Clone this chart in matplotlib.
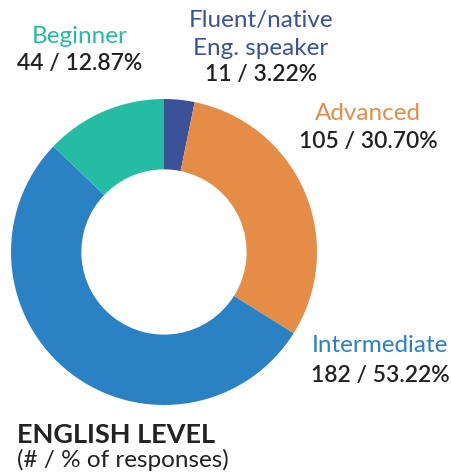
import matplotlib
matplotlib.use("Agg")
import matplotlib.pyplot as plt

# English level survey data (clockwise from 12 o'clock)
levels = ["Fluent/native\nEng. speaker", "Advanced", "Intermediate", "Beginner"]
counts = [11, 105, 182, 44]
percents = ["3.22%", "30.70%", "53.22%", "12.87%"]
colors = ["#3B5299", "#E58D47", "#2A82C4", "#24BDA3"]

W, H = 452, 473
plt.rcParams["font.family"] = ["Lato", "DejaVu Sans"]
fig = plt.figure(figsize=(W / 100, H / 100), dpi=100)

# donut, centre at (164, 252) px, radius 153 px
cx, cy, r = 164, 252, 153
ax = fig.add_axes([(cx - r) / W, 1 - (cy + r) / H, 2 * r / W, 2 * r / H])
ax.pie(counts, colors=colors, startangle=90, counterclock=False,
       wedgeprops=dict(width=0.46, linewidth=0))
ax.set_aspect("equal")
ax.set_xlim(-1, 1)
ax.set_ylim(-1, 1)
ax.axis("off")


def px(x, y):
    return x / W, 1 - y / H


dark = "#222222"
# label positions in pixels: (x centre, label baseline, value baseline)
label_pos = {
    0: (261, 27, 81),
    1: (368, 120, 148),
    2: (380, 352, 382),
    3: (80, 43, 70),
}
lab_fs = 17.5
val_fs = 16.5
for i, name in enumerate(levels):
    x, yl, yv = label_pos[i]
    if "\n" in name:
        first, second = name.split("\n")
        fig.text(*px(x, yl), first, color=colors[i], fontsize=lab_fs,
                 ha="center", va="baseline")
        fig.text(*px(x, yl + 28), second, color=colors[i], fontsize=lab_fs,
                 ha="center", va="baseline")
    else:
        fig.text(*px(x, yl), name, color=colors[i], fontsize=lab_fs,
                 ha="center", va="baseline")
    fig.text(*px(x, yv), f"{counts[i]} / {percents[i]}", color=dark,
             fontsize=val_fs, fontweight="semibold", ha="center", va="baseline")

fig.text(*px(17, 443), "ENGLISH LEVEL", color=dark, fontsize=19.5,
         fontweight="bold", ha="left", va="baseline")
fig.text(*px(17, 467), "(# / % of responses)", color=dark, fontsize=17.5,
         ha="left", va="baseline")

fig.savefig("out.png", dpi=100)
